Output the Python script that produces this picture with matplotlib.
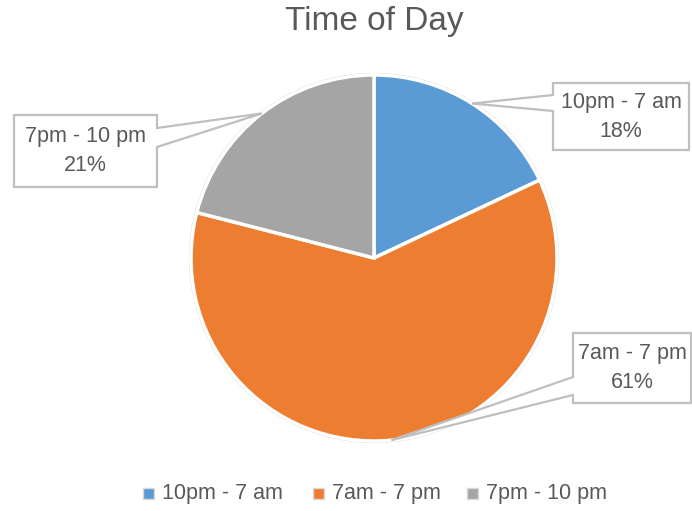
import numpy as np
import matplotlib
matplotlib.use("Agg")
import matplotlib.pyplot as plt
from matplotlib.patches import Polygon, Circle, Rectangle

# data
labels = ['10pm - 7 am', '7am - 7 pm', '7pm - 10 pm']
shares = [18, 61, 21]
colors = ['#5B9BD5', '#ED7D31', '#A5A5A5']

# callout boxes in pixel coords: left, top, right, bottom, pointer side, pointer y0, y1
boxes = [
    (553, 83, 689, 150, 'left', 95, 111),
    (573, 333, 691, 403, 'left', 377, 395),
    (14, 115, 157, 187, 'right', 128, 147),
]

W, H = 692, 511
txt = '#595959'
font = 'Liberation Sans'


def py(y):
    # pixel row -> data y
    return H - y


fig = plt.figure(figsize=(W / 100, H / 100), dpi=100)
ax = fig.add_axes([0, 0, 1, 1])

cx, cy, r = 374, py(258), 183
wedges, _ = ax.pie(shares, colors=colors, startangle=90, counterclock=False,
                   center=(cx, cy), radius=r,
                   wedgeprops=dict(edgecolor='white', linewidth=2.5))
ax.add_patch(Circle((cx, cy), r + 1.5, fill=False, edgecolor='#D9D9D9', lw=0.8, zorder=0))

ax.set_xlim(0, W)
ax.set_ylim(0, H)
ax.set_aspect('equal')
ax.axis('off')

ax.text(cx, py(21), 'Time of Day', ha='center', va='center', fontsize=24,
        color=txt, family=font)

# callouts
for w, lab, pct, (l, t, rr, b, side, p0, p1) in zip(wedges, labels, shares, boxes):
    mid = np.deg2rad((w.theta1 + w.theta2) / 2)
    tip = (cx + r * np.cos(mid), cy + r * np.sin(mid))
    if side == 'left':
        pts = [(l, py(t)), (rr, py(t)), (rr, py(b)), (l, py(b)),
               (l, py(p1)), tip, (l, py(p0))]
    else:
        pts = [(l, py(t)), (rr, py(t)), (rr, py(p0)), tip, (rr, py(p1)),
               (rr, py(b)), (l, py(b))]
    ax.add_patch(Polygon(pts, closed=True, facecolor='white', edgecolor='#BFBFBF',
                         lw=1.6, zorder=5))
    ax.text((l + rr) / 2, py((t + b) / 2), f'{lab}\n{pct}%', ha='center',
            va='center', fontsize=15.5, color=txt, family=font,
            linespacing=1.5, zorder=6)

# legend
leg_x = [148, 318, 472]
for x, lab, c in zip(leg_x, labels, colors):
    ax.add_patch(Rectangle((x - 5.5, py(493) - 5.5), 11, 11, facecolor=c,
                           edgecolor='#D9D9D9', lw=1, zorder=5))
    ax.text(x + 14, py(493), lab, ha='left', va='center', fontsize=15.5,
            color=txt, family=font)

fig.savefig('out.png', dpi=100)
